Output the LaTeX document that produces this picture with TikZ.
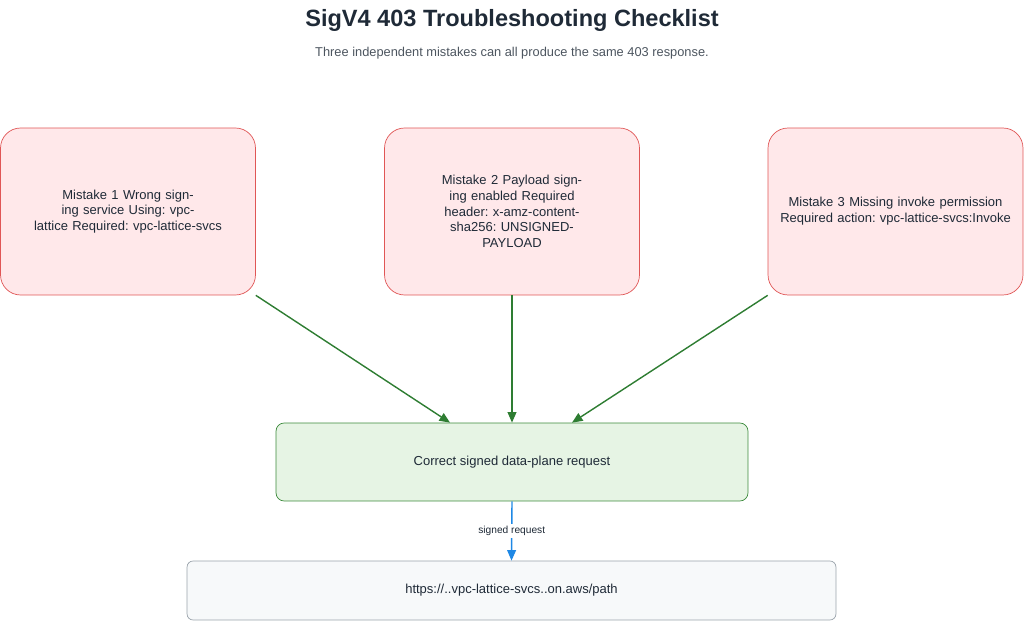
\documentclass[tikz,border=0pt]{standalone}
\usepackage{fontspec}
\setmainfont{Liberation Sans}
\usetikzlibrary{positioning,calc,arrows.meta}
\definecolor{mistakefill}{HTML}{FFE8EA}
\definecolor{mistakeline}{HTML}{E05656}
\definecolor{okfill}{HTML}{E6F4E4}
\definecolor{okline}{HTML}{3C8A3C}
\definecolor{flow}{HTML}{2E7D32}
\definecolor{sig}{HTML}{1E88E5}
\definecolor{endfill}{HTML}{F7F9FA}
\definecolor{endline}{HTML}{9AA3AB}
\definecolor{ink}{HTML}{1F2A37}
\frenchspacing
\begin{document}
\begin{tikzpicture}[x=0.02cm, y=-0.02cm, font=\fontsize{7.4}{9}\selectfont, text=ink,
    mistake/.style={rectangle, draw=mistakeline, fill=mistakefill, rounded corners=0.4cm, minimum width=5.1cm, minimum height=3.34cm, text width=5.06cm, inner sep=0pt, align=center},
    request/.style={rectangle, draw=okline, fill=okfill, rounded corners=0.16cm, minimum width=9.44cm, minimum height=1.56cm, align=center},
    target/.style={rectangle, draw=endline, fill=endfill, rounded corners=0.12cm, minimum width=12.98cm, minimum height=1.18cm, align=center},
    arrow/.style={-{Triangle[length=6pt, width=5pt]}, flow, line width=0.8pt}]

    \useasboundingbox (0,0) rectangle (1024,621);

    % Title
    \node[font=\fontsize{13.4}{16}\selectfont\bfseries] (title) at (512,20) {SigV4 403 Troubleshooting Checklist};
    \node[font=\fontsize{7.3}{9}\selectfont, text=ink!80] (subtitle) at (512,53) {Three independent mistakes can all produce the same 403 response.};

    % Mistakes
    \node[mistake] (m1) at (128,211.5) {Mistake 1 Wrong signing service Using: vpc-\\lattice Required: vpc-lattice-svcs};
    \node[mistake] (m2) at (512,211.5) {Mistake 2 Payload signing enabled Required\\header: x-amz-content-sha256: UNSIGNED-\\PAYLOAD};
    \node[mistake] (m3) at (895.5,211.5) {Mistake 3 Missing invoke permission\\Required action: vpc-lattice-svcs:Invoke};

    % Request and endpoint
    \node[request] (req) at (512,462) {Correct signed data-plane request};
    \node[target] (url) at (511.5,590.5) {https://..vpc-lattice-svcs..on.aws/path};

    % Arrows
    \draw[arrow] (m1.south east) -- ([xshift=-1.24cm]req.north);
    \draw[arrow] (m2.south) -- (req.north);
    \draw[arrow] (m3.south west) -- ([xshift=1.2cm]req.north);
    \draw[arrow, sig] (req.south) -- node[fill=white, text=ink, font=\fontsize{5.8}{7}\selectfont, inner sep=1pt] {signed request} (url.north);

\end{tikzpicture}
\end{document}
